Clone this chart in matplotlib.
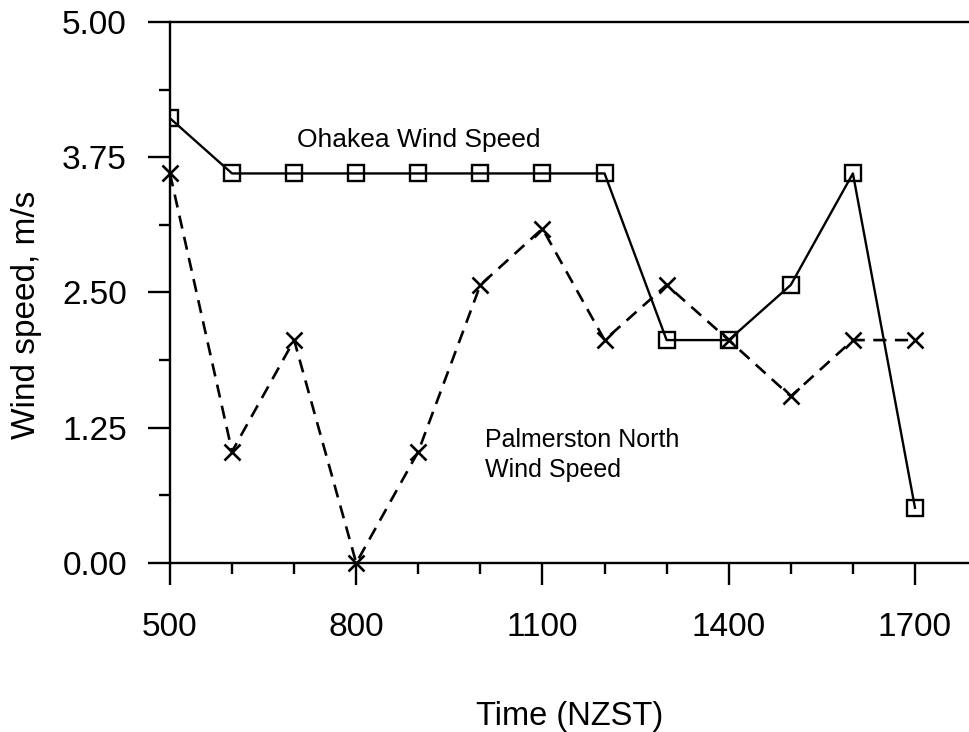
"""Ohakea vs Palmerston North wind speed through the day."""

import matplotlib

matplotlib.use("Agg")
import matplotlib.pyplot as plt
from matplotlib.ticker import FixedLocator, MultipleLocator

plt.rcParams["font.family"] = ["Liberation Sans", "DejaVu Sans"]

# Data (wind speeds, m/s)
times = [500, 600, 700, 800, 900, 1000, 1100, 1200, 1300, 1400, 1500, 1600, 1700]
ohakea = [4.11, 3.60, 3.60, 3.60, 3.60, 3.60, 3.60, 3.60, 2.06, 2.06, 2.57, 3.60, 0.51]
palmerston = [3.60, 1.03, 2.06, 0.00, 1.03, 2.57, 3.09, 2.06, 2.57, 2.06, 1.54, 2.06, 2.06]

x_major = [500, 800, 1100, 1400, 1700]
y_major = [0.0, 1.25, 2.50, 3.75, 5.00]
y_labels = ["0.00", "1.25", "2.50", "3.75", "5.00"]

fig = plt.figure(figsize=(9.69, 7.32), dpi=100)
ax = fig.add_axes([0.1754, 0.2309, 0.8246, 0.7391])

ax.plot(times, ohakea, color="black", linewidth=1.7, marker="s", markersize=11.5,
        markerfacecolor="none", markeredgecolor="black", markeredgewidth=1.7,
        zorder=3)
ax.plot(times, palmerston, color="black", linewidth=1.9, linestyle=(0, (5, 3.2)),
        marker="x", markersize=12, markeredgewidth=1.9, clip_on=False, zorder=3)

# Series labels
ax.text(705, 3.84, "Ohakea Wind Speed", fontsize=19, ha="left", va="baseline")
ax.text(1007, 1.07, "Palmerston North", fontsize=18, ha="left", va="baseline")
ax.text(1007, 0.795, "Wind Speed", fontsize=18, ha="left", va="baseline")

ax.set_xlim(500, 1787)
ax.set_ylim(0, 5)
ax.xaxis.set_major_locator(FixedLocator(x_major))
ax.xaxis.set_minor_locator(MultipleLocator(100))
ax.set_yticks(y_major)
ax.set_yticklabels(y_labels)
ax.yaxis.set_minor_locator(MultipleLocator(0.625))

ax.spines["right"].set_visible(False)
for side in ("left", "bottom", "top"):
    ax.spines[side].set_linewidth(1.7)

ax.tick_params(which="major", direction="out", length=16, width=1.7,
               labelsize=24)
ax.tick_params(which="minor", direction="out", length=8, width=1.7)
ax.tick_params(axis="x", which="major", pad=19)
ax.tick_params(axis="y", which="major", pad=15)
ax.tick_params(axis="x", which="both", top=False)

ax.set_xlabel("Time (NZST)", fontsize=23.5, labelpad=42)
ax.set_ylabel("Wind speed, m/s", fontsize=24)
# label sits a little below the axis centre in the original
ax.yaxis.set_label_coords(-0.16, 0.458)

fig.savefig("out.png", dpi=100)
